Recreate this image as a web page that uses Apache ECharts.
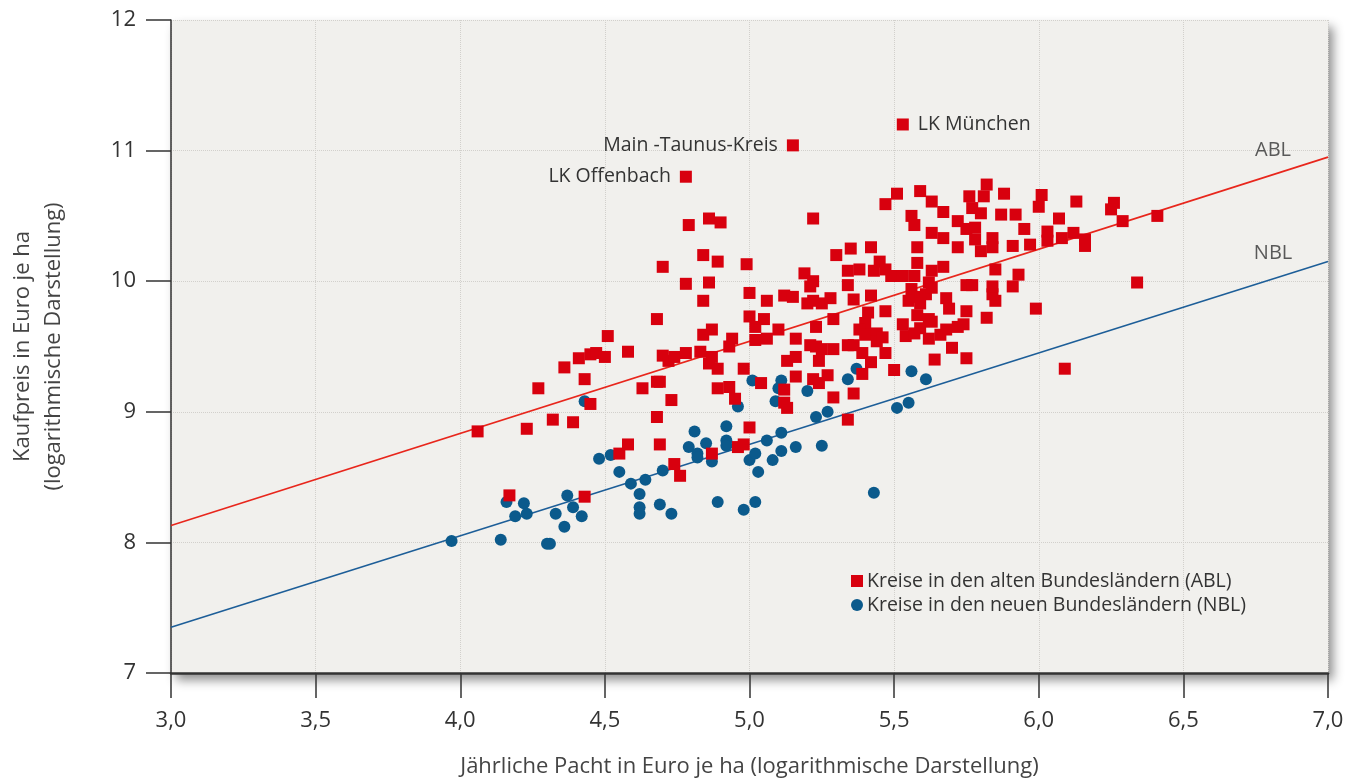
<!DOCTYPE html>
<html>
<head>
<meta charset="utf-8">
<script src="https://cdn.jsdelivr.net/npm/echarts@6/dist/echarts.min.js"></script>
<style>
    html, body, #main {
        width: 100%;
        height: 100%;
        margin: 0;
        background: #fff;
    }
</style>
</head>
<body>
<div id="main"></div>
<script>
    // [Pacht, Kaufpreis] je Kreis, beide logarithmiert
    var ablPoints = [
        [4.06,8.85],[4.17,8.36],[4.23,8.87],[4.27,9.18],[4.32,8.94],[4.36,9.34],[4.39,8.92],[4.41,9.41],[4.43,9.25],[4.45,9.44],
        [4.47,9.45],[4.45,9.06],[4.43,8.35],[4.50,9.42],[4.51,9.58],[4.58,9.46],[4.55,8.68],[4.58,8.75],[4.63,9.18],[4.68,9.71],
        [4.68,9.23],[4.69,9.23],[4.68,8.96],[4.69,8.75],[4.70,10.11],[4.70,9.43],[4.72,9.39],[4.74,9.42],[4.73,9.09],[4.74,8.60],
        [4.76,8.51],[4.78,9.98],[4.78,9.45],[4.79,10.43],[4.86,10.48],[4.90,10.45],[4.84,10.20],[4.89,10.15],[4.86,9.99],[4.84,9.85],
        [4.87,9.63],[4.84,9.59],[4.83,9.46],[4.87,9.42],[4.86,9.37],[4.89,9.33],[4.89,9.18],[4.93,9.19],[4.95,9.10],[4.87,8.68],
        [4.96,8.73],[4.98,8.75],[5.00,8.88],[4.99,10.13],[5.00,9.91],[5.00,9.73],[4.94,9.56],[4.93,9.50],[4.98,9.33],[5.04,9.22],
        [5.06,9.85],[5.05,9.71],[5.02,9.65],[5.02,9.55],[5.06,9.56],[5.10,9.63],[5.12,9.89],[5.15,9.88],[5.16,9.56],[5.13,9.39],
        [5.16,9.42],[5.16,9.27],[5.12,9.17],[5.12,9.07],[5.13,9.03],[5.22,10.48],[5.19,10.06],[5.22,10.00],[5.21,9.96],[5.20,9.83],
        [5.22,9.85],[5.25,9.83],[5.28,9.87],[5.30,10.20],[5.34,10.08],[5.34,9.97],[5.29,9.71],[5.23,9.65],[5.21,9.51],[5.23,9.50],
        [5.25,9.48],[5.29,9.48],[5.34,9.51],[5.24,9.39],[5.27,9.28],[5.22,9.25],[5.24,9.22],[5.29,9.11],[5.34,8.94],[5.36,9.14],
        [5.39,9.29],[5.35,10.25],[5.42,10.26],[5.38,10.09],[5.45,10.15],[5.43,10.08],[5.47,10.09],[5.49,10.04],[5.36,9.86],[5.42,9.89],
        [5.47,9.77],[5.41,9.76],[5.40,9.68],[5.38,9.63],[5.40,9.59],[5.44,9.60],[5.44,9.54],[5.47,9.45],[5.36,9.51],[5.39,9.45],
        [5.42,9.38],[5.50,9.32],[5.46,9.57],[5.47,10.59],[5.51,10.67],[5.59,10.69],[5.63,10.61],[5.56,10.50],[5.57,10.43],[5.63,10.37],
        [5.53,10.04],[5.58,10.26],[5.58,10.14],[5.57,10.04],[5.62,9.99],[5.56,9.94],[5.58,9.88],[5.61,9.90],[5.55,9.85],[5.59,9.83],
        [5.63,9.95],[5.58,9.74],[5.53,9.67],[5.54,9.58],[5.59,9.64],[5.62,9.71],[5.57,9.60],[5.62,9.56],[5.66,9.59],[5.64,9.40],
        [5.68,9.63],[5.72,9.65],[5.70,9.49],[5.75,9.41],[5.63,9.69],[5.74,9.67],[5.68,9.87],[5.69,9.79],[5.75,9.77],[5.82,9.72],
        [5.85,9.85],[5.84,9.90],[5.84,9.96],[5.75,9.97],[5.77,9.97],[5.85,10.09],[5.93,10.05],[5.91,9.96],[5.67,10.11],[5.63,10.08],
        [5.67,10.53],[5.76,10.65],[5.82,10.74],[5.81,10.65],[5.88,10.67],[5.77,10.56],[5.80,10.52],[5.87,10.51],[5.92,10.51],[6.01,10.66],
        [6.00,10.57],[6.07,10.48],[6.13,10.61],[6.26,10.60],[6.25,10.55],[6.29,10.46],[6.41,10.50],[6.34,9.99],[5.99,9.79],[6.09,9.33],
        [5.67,10.33],[5.72,10.46],[5.72,10.26],[5.75,10.40],[5.78,10.41],[5.78,10.32],[5.80,10.23],[5.84,10.33],[5.84,10.26],[5.91,10.27],
        [5.95,10.40],[5.97,10.28],[6.03,10.38],[6.03,10.31],[6.08,10.33],[6.12,10.37],[6.16,10.32],[6.16,10.27]
    ];
    var nblPoints = [
        [3.97,8.01],[4.14,8.02],[4.30,7.99],[4.31,7.99],[4.16,8.31],[4.22,8.30],[4.19,8.20],[4.23,8.22],[4.33,8.22],[4.36,8.12],
        [4.37,8.36],[4.39,8.27],[4.42,8.20],[4.43,9.08],[4.48,8.64],[4.52,8.67],[4.55,8.54],[4.59,8.45],[4.64,8.48],[4.62,8.37],
        [4.62,8.27],[4.62,8.22],[4.69,8.29],[4.73,8.22],[4.70,8.55],[4.79,8.73],[4.81,8.85],[4.92,8.89],[4.85,8.76],[4.82,8.68],
        [4.82,8.65],[4.87,8.62],[4.92,8.78],[4.92,8.74],[5.06,8.78],[5.11,8.84],[5.11,8.70],[5.16,8.73],[5.25,8.74],[5.00,8.63],
        [5.02,8.68],[5.08,8.63],[5.03,8.54],[4.89,8.31],[4.98,8.25],[5.02,8.31],[5.43,8.38],[5.01,9.24],[5.11,9.24],[5.10,9.18],
        [5.09,9.08],[4.96,9.04],[5.20,9.16],[5.34,9.25],[5.56,9.31],[5.61,9.25],[5.23,8.96],[5.27,9.00],[5.51,9.03],[5.55,9.07],
        [5.37,9.33]
    ];
    // beschriftete Kreise (ABL)
    var namedNames = ['LK München', 'Main -Taunus-Kreis', 'LK Offenbach'];
    var namedValues = [[5.53,11.20],[5.15,11.04],[4.78,10.80]];

    // Regressionsgeraden
    var ablLine = [[3.0,8.13],[7.0,10.95]];
    var nblLine = [[3.0,7.35],[7.0,10.15]];
    var lineNames = ['ABL', 'NBL'];
    var lineNamePos = [[6.81,11.0],[6.81,10.21]];

    var xMin = 3, xMax = 7, xStep = 0.5;
    var yMin = 7, yMax = 12, yStep = 1;
    var legendNames = ['Kreise in den alten Bundesländern (ABL)', 'Kreise in den neuen Bundesländern (NBL)'];

    var font = '"Open Sans", "Noto Sans", sans-serif';
    var red = '#d8000e', blue = '#0b5a8c';

    var ablData = ablPoints.slice();
    for (var i = 0; i < namedNames.length; i++) {
        ablData.push({
            name: namedNames[i],
            value: namedValues[i],
            label: {
                show: true,
                formatter: '{b}',
                position: i === 0 ? 'right' : 'left',
                distance: 9,
                color: '#333',
                fontSize: 19.5,
                fontFamily: font
            }
        });
    }
    var lineLabelData = lineNames.map(function (n, i) {
        return { name: n, value: lineNamePos[i] };
    });

    var myChart = echarts.init(document.getElementById('main'));
    myChart.setOption({
        backgroundColor: '#fff',
        animation: false,
        textStyle: { fontFamily: font },
        grid: {
            left: 171, right: 20, top: 20, bottom: 106,
            outerBoundsMode: 'none',
            containLabel: false,
            show: true,
            backgroundColor: '#f1f0ed',
            borderWidth: 0,
            shadowColor: 'rgba(0,0,0,0.45)',
            shadowBlur: 10,
            shadowOffsetX: 5,
            shadowOffsetY: 7
        },
        legend: {
            orient: 'vertical',
            left: 846,
            top: 566,
            itemGap: 4,
            itemWidth: 12,
            itemHeight: 12,
            data: [
                { name: legendNames[0], icon: 'rect', itemStyle: { color: red } },
                { name: legendNames[1], icon: 'circle', itemStyle: { color: blue } }
            ],
            textStyle: { color: '#333', fontSize: 19.5, fontFamily: font, padding: [0, 0, 0, -1] }
        },
        xAxis: {
            type: 'value',
            min: xMin, max: xMax, interval: xStep,
            name: 'Jährliche Pacht in Euro je ha (logarithmische Darstellung)',
            nameLocation: 'middle',
            nameGap: 83,
            nameTextStyle: { color: '#444', fontSize: 22, fontFamily: font },
            axisLine: { onZero: false, lineStyle: { color: '#333', width: 2.5 } },
            axisTick: { show: true, inside: false, length: 25, lineStyle: { color: '#333', width: 1.5 } },
            axisLabel: {
                margin: 37, color: '#333', fontSize: 22, fontFamily: font,
                formatter: function (v) { return v.toFixed(1).replace('.', ','); }
            },
            splitLine: { show: true, lineStyle: { color: '#d2d0cc', type: 'dotted', width: 1 } }
        },
        yAxis: {
            type: 'value',
            min: yMin, max: yMax, interval: yStep,
            name: 'Kaufpreis in Euro je ha\n(logarithmische Darstellung)',
            nameLocation: 'middle',
            nameGap: 102,
            nameTextStyle: { color: '#444', fontSize: 22, lineHeight: 31, fontFamily: font },
            axisLine: { show: true, onZero: false, lineStyle: { color: '#333', width: 1.5 } },
            axisTick: { show: true, inside: false, length: 25, lineStyle: { color: '#333', width: 1.5 } },
            axisLabel: { margin: 35, color: '#333', fontSize: 22, fontFamily: font },
            splitLine: { show: true, lineStyle: { color: '#d2d0cc', type: 'dotted', width: 1 } }
        },
        series: [
            {
                name: 'ABL-Gerade',
                type: 'line',
                data: ablLine,
                symbol: 'none',
                lineStyle: { color: '#e8261c', width: 1.6 },
                z: 1
            },
            {
                name: 'NBL-Gerade',
                type: 'line',
                data: nblLine,
                symbol: 'none',
                lineStyle: { color: '#1d5e98', width: 1.6 },
                z: 1
            },
            {
                name: 'Geradenlabel',
                type: 'scatter',
                data: lineLabelData,
                symbolSize: 0,
                label: {
                    show: true, position: 'inside', formatter: '{b}',
                    color: '#333', fontSize: 20, fontFamily: font
                },
                z: 1
            },
            {
                name: legendNames[1],
                type: 'scatter',
                data: nblPoints,
                symbol: 'circle',
                symbolSize: 12,
                itemStyle: { color: blue, opacity: 1 },
                z: 3
            },
            {
                name: legendNames[0],
                type: 'scatter',
                data: ablData,
                symbol: 'rect',
                symbolSize: 12,
                itemStyle: { color: red, opacity: 1 },
                z: 4
            }
        ]
    });
</script>
</body>
</html>
